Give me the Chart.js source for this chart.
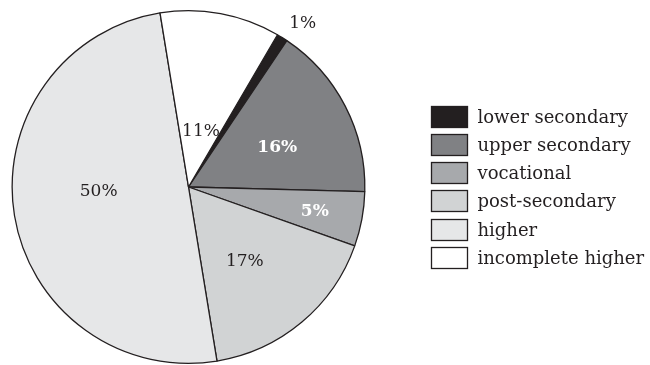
<!DOCTYPE html>
<html>
<head>
<meta charset="utf-8">
<script src="https://cdn.jsdelivr.net/npm/chart.js@4.4.0/dist/chart.umd.min.js"></script>
<style>
  html, body { margin: 0; padding: 0; background: #fff; }
  #wrap { width: 650px; height: 365px; }
</style>
</head>
<body>
<div id="wrap"><canvas id="pieChart"></canvas></div>
<script>
var categories = ['lower secondary', 'upper secondary', 'vocational', 'post-secondary', 'higher', 'incomplete higher'];
var shares = [1, 16, 5, 17, 50, 11];

var fills = ['#231f20', '#808184', '#a7a9ac', '#d1d3d4', '#e6e7e8', '#ffffff'];
var ink = '#231f20';

// where each percent label sits, as a fraction of the radius, plus a small angle nudge
var labelRadius = [1.13, 0.55, 0.73, 0.53, 0.51, 0.32];
var labelNudge = [0.05, 0.06, 0.01, 0.05, 0.11, 0.04];
var labelBold = [false, true, true, false, false, false];
var labelColor = [ink, '#ffffff', '#ffffff', ink, ink, ink];

var serif = '"DejaVu Serif", "Liberation Serif", serif';

var pieLabels = {
  id: 'pieLabels',
  afterDatasetsDraw: function (chart) {
    var ctx = chart.ctx;
    var arcs = chart.getDatasetMeta(0).data;
    ctx.save();
    ctx.textAlign = 'center';
    ctx.textBaseline = 'middle';
    arcs.forEach(function (arc, i) {
      var p = arc.getProps(['x', 'y', 'startAngle', 'endAngle', 'outerRadius'], true);
      var a = (p.startAngle + p.endAngle) / 2 + labelNudge[i];
      var r = p.outerRadius * labelRadius[i];
      ctx.font = (labelBold[i] ? 'bold ' : '') + '17px ' + serif;
      ctx.fillStyle = labelColor[i];
      ctx.fillText(shares[i] + '%', p.x + Math.cos(a) * r, p.y + Math.sin(a) * r);
    });
    ctx.restore();
  }
};

var sideLegend = {
  id: 'sideLegend',
  afterDraw: function (chart) {
    var ctx = chart.ctx;
    var left = 431.5, top = 105.5, step = 28.3, bw = 36, bh = 21;
    ctx.save();
    ctx.font = '18px ' + serif;
    ctx.textBaseline = 'middle';
    ctx.lineWidth = 1.3;
    categories.forEach(function (name, i) {
      var y = Math.round(top + i * step) + 0.5;
      ctx.fillStyle = fills[i];
      ctx.fillRect(left, y, bw, bh);
      ctx.strokeStyle = ink;
      ctx.strokeRect(left, y, bw, bh);
      ctx.fillStyle = ink;
      ctx.fillText(name, left + bw + 10, y + bh / 2 + 1);
    });
    ctx.restore();
  }
};

new Chart(document.getElementById('pieChart'), {
  type: 'pie',
  data: {
    labels: categories,
    datasets: [{
      data: shares,
      backgroundColor: fills,
      borderColor: ink,
      borderWidth: 1.3,
      hoverOffset: 0
    }]
  },
  options: {
    responsive: true,
    maintainAspectRatio: false,
    animation: false,
    rotation: 30.3,
    layout: { padding: { left: 11, top: 10, right: 284, bottom: 1 } },
    plugins: {
      legend: { display: false },
      tooltip: { enabled: false }
    }
  },
  plugins: [pieLabels, sideLegend]
});
</script>
</body>
</html>
